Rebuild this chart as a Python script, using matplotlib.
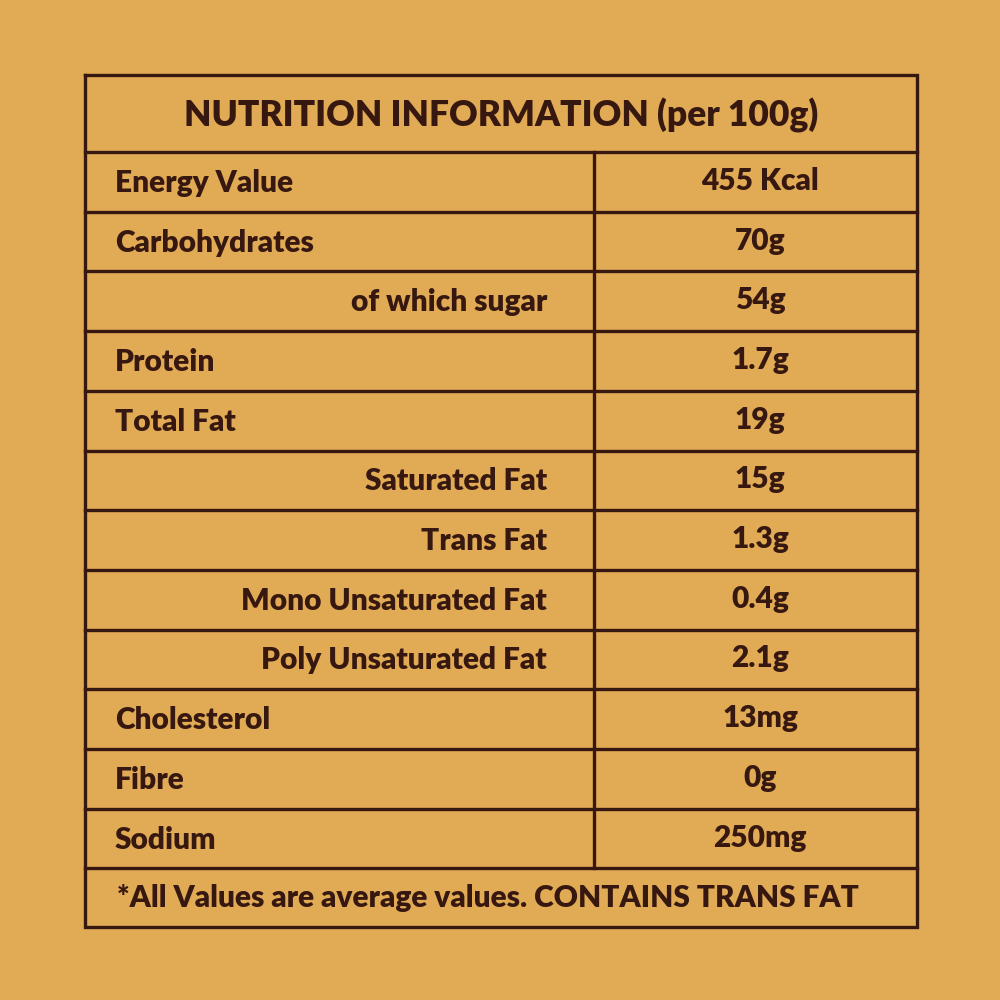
import matplotlib
matplotlib.use("Agg")
import matplotlib.pyplot as plt

title = "NUTRITION INFORMATION (per 100g)"
nutrients = ["Energy Value", "Carbohydrates", "of which sugar", "Protein", "Total Fat",
             "Saturated Fat", "Trans Fat", "Mono Unsaturated Fat", "Poly Unsaturated Fat",
             "Cholesterol", "Fibre", "Sodium"]
amounts = ["455 Kcal", "70g", "54g", "1.7g", "19g", "15g", "1.3g", "0.4g", "2.1g",
           "13mg", "0g", "250mg"]
indented = [False, False, True, False, False, True, True, True, True, False, False, False]
footnote = "*All Values are average values. CONTAINS TRANS FAT"

BG = "#E1AA55"
INK = "#361810"
FONT = "Lato"

fig = plt.figure(figsize=(10, 10), dpi=100)
fig.patch.set_facecolor(BG)
ax = fig.add_axes([0, 0, 1, 1])
ax.set_xlim(0, 1000)
ax.set_ylim(1000, 0)
ax.axis("off")
ax.set_facecolor(BG)

left, right, top, bottom = 85, 917, 75, 927
header_bottom = 152
row_h = 59.7
divider = 594
lw = 2.4

rows_top = header_bottom
rows_bottom = rows_top + row_h * len(nutrients)

ax.plot([left, right, right, left, left], [top, top, bottom, bottom, top], color=INK, lw=lw,
        solid_joinstyle="miter")
ax.plot([left, right], [header_bottom, header_bottom], color=INK, lw=lw)
for i in range(1, len(nutrients) + 1):
    y = rows_top + row_h * i
    ax.plot([left, right], [y, y], color=INK, lw=lw)
ax.plot([divider, divider], [rows_top, rows_bottom], color=INK, lw=lw)

ax.text(501, (top + header_bottom) / 2 + 2, title, ha="center", va="center",
        fontsize=25.5, fontweight="heavy", color=INK, family=FONT)

fs = 21.5
for i, (n, a, ind) in enumerate(zip(nutrients, amounts, indented)):
    yc = rows_top + row_h * (i + 0.5) + 1
    if ind:
        ax.text(547, yc, n, ha="right", va="center", fontsize=fs, fontweight="heavy",
                color=INK, family=FONT)
    else:
        ax.text(115, yc, n, ha="left", va="center", fontsize=fs, fontweight="heavy",
                color=INK, family=FONT)
    ax.text(760, yc - 2, a, ha="center", va="center", fontsize=fs, fontweight="heavy",
            color=INK, family=FONT)

ax.text(488, (rows_bottom + bottom) / 2, footnote, ha="center", va="center",
        fontsize=fs, fontweight="heavy", color=INK, family=FONT)

fig.savefig("out.png", dpi=100, facecolor=BG)
